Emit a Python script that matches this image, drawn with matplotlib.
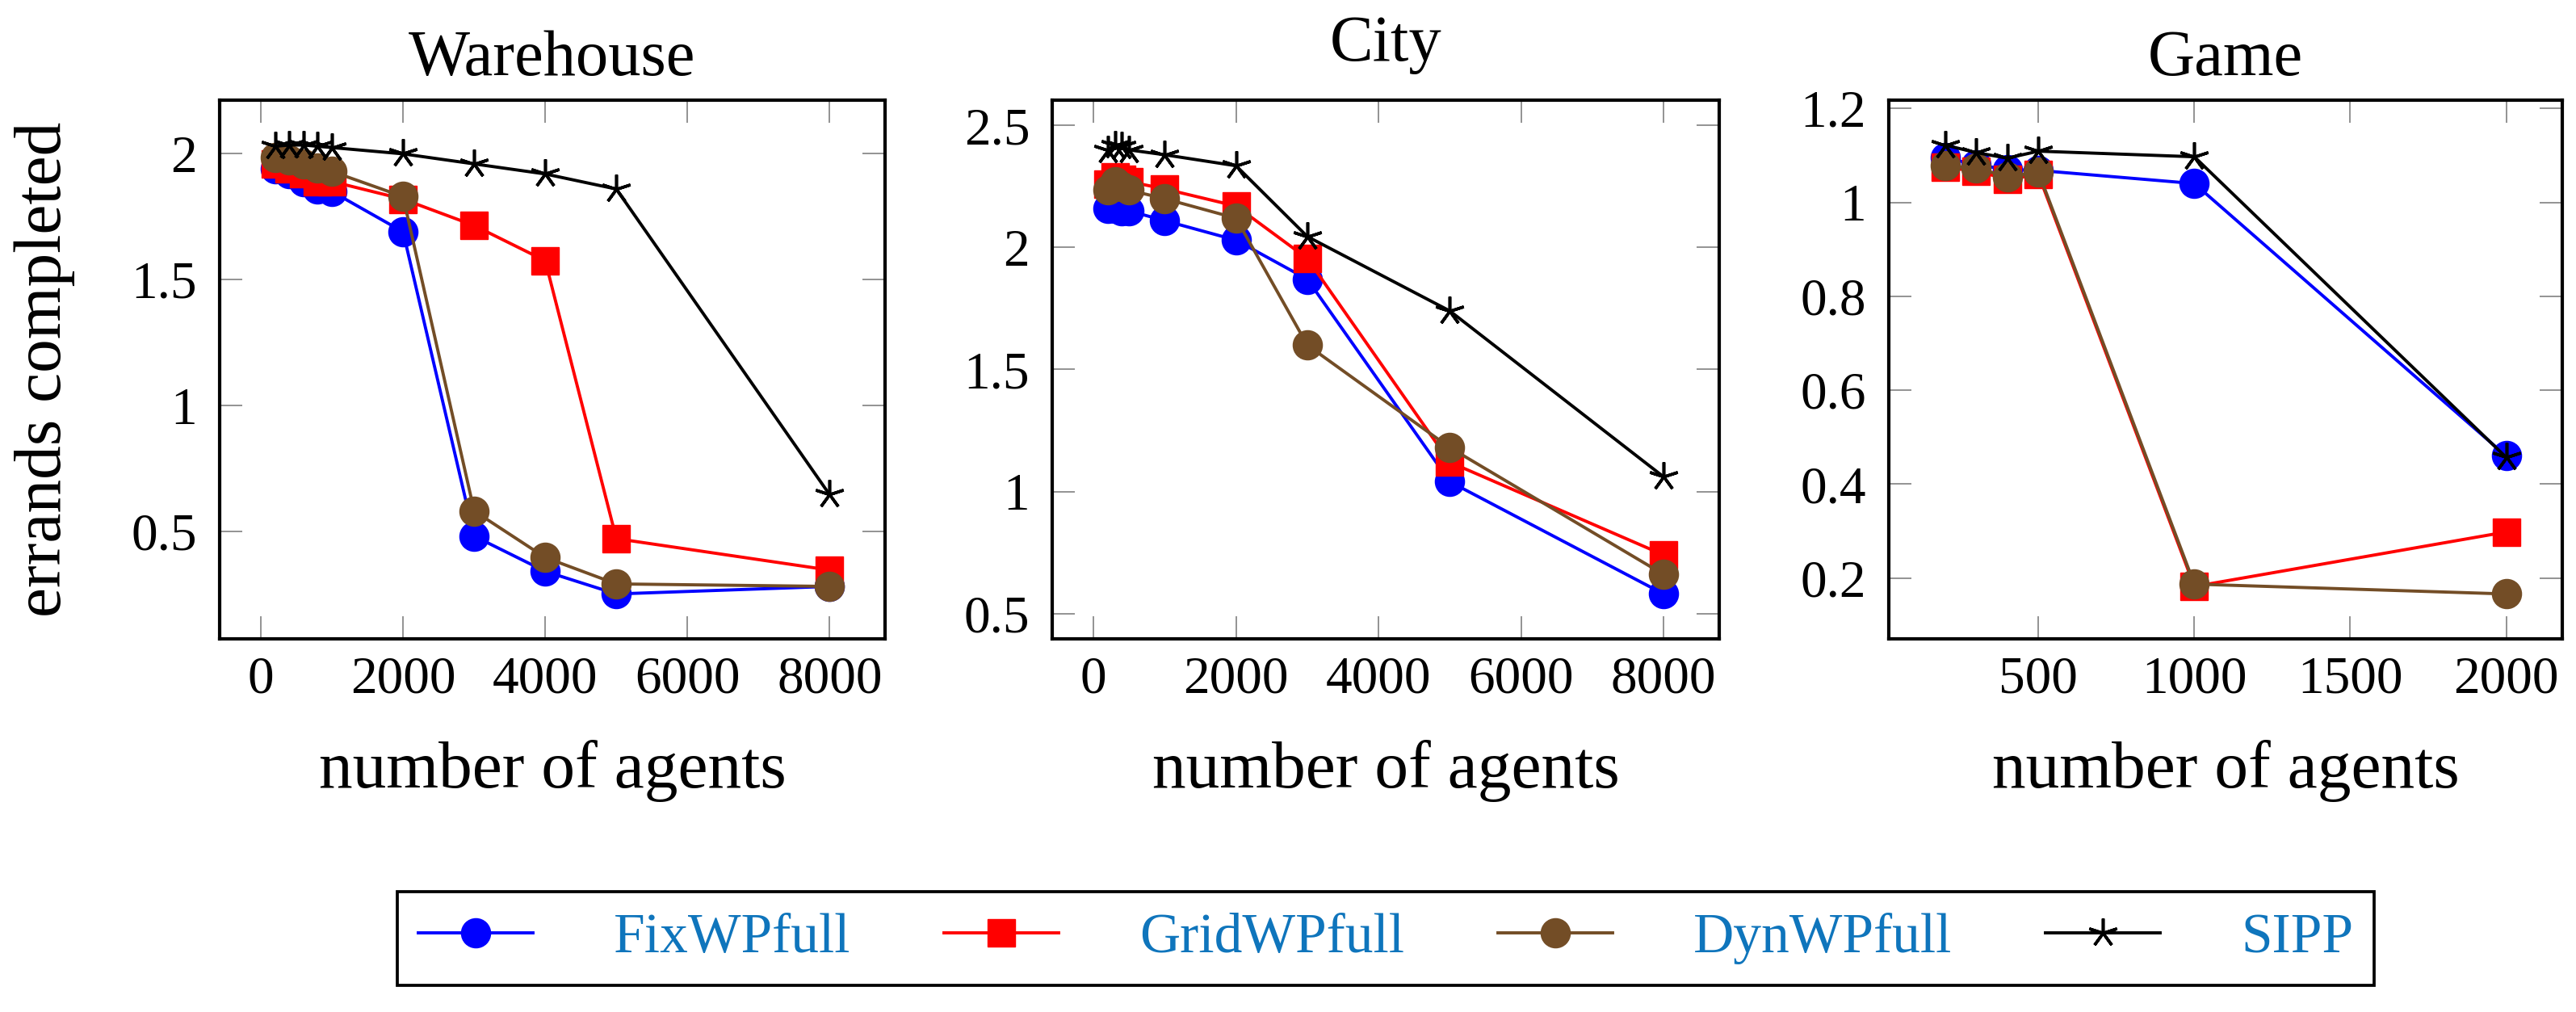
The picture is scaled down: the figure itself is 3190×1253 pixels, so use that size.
import matplotlib
matplotlib.use("Agg")
import matplotlib.pyplot as plt
from matplotlib.lines import Line2D
from matplotlib.ticker import MultipleLocator, FuncFormatter

# data
titles = ["Warehouse", "City", "Game"]
series_names = ["FixWPfull", "GridWPfull", "DynWPfull", "SIPP"]

x_wh = [200, 400, 600, 800, 1000, 2000, 3000, 4000, 5000, 8000]
fix_wh = [1.94, 1.92, 1.89, 1.86, 1.85, 1.69, 0.48, 0.34, 0.25, 0.28]
grid_wh = [1.96, 1.94, 1.92, 1.89, 1.89, 1.82, 1.715, 1.575, 0.47, 0.345]
dyn_wh = [1.985, 1.975, 1.96, 1.945, 1.93, 1.83, 0.58, 0.395, 0.29, 0.28]
sipp_wh = [2.03, 2.035, 2.035, 2.03, 2.025, 2.0, 1.96, 1.92, 1.86, 0.645]

x_city = [200, 300, 400, 500, 1000, 2000, 3000, 5000, 8000]
fix_city = [2.16, 2.16, 2.15, 2.15, 2.11, 2.03, 1.87, 1.04, 0.58]
grid_city = [2.26, 2.29, 2.28, 2.27, 2.24, 2.17, 1.955, 1.12, 0.74]
dyn_city = [2.235, 2.27, 2.25, 2.235, 2.20, 2.12, 1.60, 1.18, 0.66]
sipp_city = [2.40, 2.42, 2.415, 2.40, 2.38, 2.335, 2.045, 1.74, 1.06]

x_game = [200, 300, 400, 500, 1000, 2000]
fix_game = [1.095, 1.08, 1.07, 1.068, 1.04, 0.46]
grid_game = [1.074, 1.067, 1.049, 1.059, 0.182, 0.298]
dyn_game = [1.078, 1.073, 1.055, 1.064, 0.187, 0.166]
sipp_game = [1.122, 1.106, 1.094, 1.109, 1.097, 0.457]

panels = [
    (x_wh, [fix_wh, grid_wh, dyn_wh, sipp_wh]),
    (x_city, [fix_city, grid_city, dyn_city, sipp_city]),
    (x_game, [fix_game, grid_game, dyn_game, sipp_game]),
]

BROWN = "#734D26"
styles = [
    dict(color="blue", marker="o", ms=26, mec="blue"),
    dict(color="red", marker="s", ms=25, mec="red"),
    dict(color=BROWN, marker="o", ms=26, mec=BROWN),
    dict(color="black", marker=(5, 2, 0), ms=26, mew=2.6, mec="black"),
]

plt.rcParams["font.family"] = ["Liberation Serif", "DejaVu Serif"]

fig = plt.figure(figsize=(31.9, 12.53), dpi=100)
W, H = 3190.0, 1253.0
boxes = [(272, 1096), (1303, 2129), (2339, 3173)]
top, bottom = 124, 791
xsteps = [2000, 2000, 500]
ysteps = [0.5, 0.5, 0.2]
title_pads = [22, 35, 22]

fmt = FuncFormatter(lambda v, p: "%g" % round(v, 6))

for i, ((xs, ys_list), (l, r)) in enumerate(zip(panels, boxes)):
    ax = fig.add_axes([l / W, 1 - bottom / H, (r - l) / W, (bottom - top) / H])
    for ys, st in zip(ys_list, styles):
        ax.plot(xs, ys, lw=2.8, **st)
    ax.margins(x=0.1, y=0.1)
    ax.xaxis.set_major_locator(MultipleLocator(xsteps[i]))
    ax.yaxis.set_major_locator(MultipleLocator(ysteps[i]))
    ax.xaxis.set_major_formatter(fmt)
    ax.yaxis.set_major_formatter(fmt)
    ax.tick_params(axis="both", which="major", direction="in", length=20,
                   width=1.2, color="#808080", labelsize=47,
                   top=True, right=True)
    ax.tick_params(axis="x", pad=15)
    ax.tick_params(axis="y", pad=20)
    for sp in ax.spines.values():
        sp.set_linewidth(3)
    ax.set_title(titles[i], fontsize=58, pad=title_pads[i])
    ax.set_xlabel("number of agents", fontsize=60, labelpad=32)
    if i == 0:
        ax.set_ylabel("errands completed", fontsize=60, labelpad=50)

handles = [Line2D([], [], lw=2.8, **st) for st in styles]
leg = fig.legend(handles, series_names, loc="center",
                 bbox_to_anchor=((487 + 2945) / 2 / W, 1 - 1162 / H),
                 ncol=4, fontsize=50, labelcolor="#0F75BC",
                 handlelength=2.05, handletextpad=1.44, columnspacing=1.66,
                 borderpad=0.38, fancybox=False, framealpha=1,
                 edgecolor="black", numpoints=1)
leg.get_frame().set_linewidth(2.7)

fig.savefig("out.png", dpi=100)
